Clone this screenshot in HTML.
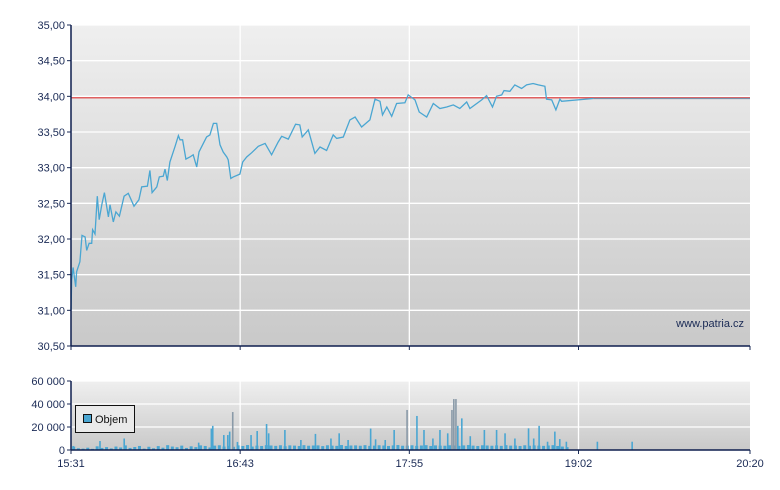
<!DOCTYPE html>
<html><head><meta charset="utf-8"><style>
html,body{margin:0;padding:0;background:#fff;width:780px;height:490px;overflow:hidden}
svg{display:block;font-family:"Liberation Sans",sans-serif}
</style></head><body>
<svg id="c" width="780" height="490">
<defs>
<linearGradient id="g1" x1="0" y1="0" x2="0" y2="1"><stop offset="0" stop-color="#efefef"/><stop offset="1" stop-color="#c9c9c9"/></linearGradient>
<linearGradient id="g2" x1="0" y1="0" x2="0" y2="1"><stop offset="0" stop-color="#efefef"/><stop offset="1" stop-color="#c9c9c9"/></linearGradient>
</defs>
</svg>
<script>
const priceTimes=[0,0.3,0.9,2,2.4,3.8,4.7,6,6.7,7.7,8.8,9.2,10.2,11.2,12,13.1,14.2,15.9,16.6,18,19.1,20.6,22.6,24.4,26.8,28.9,30.1,32.5,33.6,34.5,36.5,37.6,39.3,40,41,42.1,44.3,45.7,46.4,47.5,48.9,50.6,52,53.5,54.5,56.3,57.7,59.1,60.6,62,63.4,64.8,66.3,66.9,68,69.1,71.9,73.1,74.8,76.9,79.7,82.6,85.4,88.2,89.7,92.5,95.6,97.4,98.4,101,103.8,106,108.8,111.6,113.1,115.9,118.7,120.9,123.7,127.2,129.4,131.5,132.6,134.4,136.5,138.6,142.1,143.5,146.4,148.2,151.4,154.2,157,159.9,162.7,165.5,168.4,169.8,174.8,176.9,179.4,181.1,183.3,184.3,186.8,188.9,191.8,193.9,196.7,198.9,201.7,202.4,204.6,206.4,208.1,208.8,222.3];
const priceValues=[31.0,31.43,31.6,31.33,31.54,31.68,32.05,32.03,31.84,31.94,31.94,32.13,32.07,32.6,32.27,32.48,32.65,32.31,32.48,32.24,32.38,32.32,32.6,32.64,32.46,32.55,32.73,32.74,32.96,32.65,32.73,32.87,32.88,32.98,32.82,33.08,33.3,33.45,33.39,33.39,33.12,33.15,33.18,33.01,33.22,33.34,33.43,33.46,33.62,33.62,33.32,33.22,33.15,33.11,32.85,32.87,32.91,33.08,33.15,33.21,33.3,33.34,33.18,33.36,33.44,33.4,33.61,33.6,33.43,33.53,33.2,33.29,33.24,33.46,33.41,33.43,33.67,33.71,33.57,33.67,33.96,33.93,33.74,33.85,33.72,33.9,33.91,34.02,33.95,33.78,33.71,33.9,33.83,33.85,33.88,33.83,33.92,33.83,33.95,34.01,33.85,34.0,34.02,34.08,34.07,34.16,34.11,34.16,34.18,34.16,34.14,33.96,33.95,33.81,33.96,33.93,33.97];
const lastPrice=33.97;
const refPrice=33.98;
const priceTicks=["30,50","31,00","31,50","32,00","32,50","33,00","33,50","34,00","34,50","35,00"];
const priceTickValues=[30.5,31,31.5,32,32.5,33,33.5,34,34.5,35];
const timeLabels=["15:31","16:43","17:55","19:02","20:20"];
const timeTickMinutes=[0,72,144,216,289];
const volTicks=["0","20 000","40 000","60 000"];
const volTickValues=[0,20000,40000,60000];
const volSpikeTimes=[0.6,12,22.3,54,59.4,60,64.7,66.4,67.2,68.5,70.5,76.3,78.9,82.9,83.8,90.7,97.5,103.7,110.3,113.8,117.6,127.2,129.3,133.4,137.2,142.7,146.9,149.9,153.7,156.7,160,161.8,162.6,163.5,164.3,166,169.6,175.6,180.8,184.4,188.6,194.4,196.6,198.9,202.5,205.6,207.7,210.5,223.7,238.5];
const volSpikeValues=[3500,7800,10000,6400,18600,21000,13000,13000,16000,33000,7000,13000,16500,22600,14500,17400,8700,14000,10000,14500,8700,18600,9300,8700,17400,34800,29600,17400,10000,17400,14500,34800,44300,44300,21000,27500,12000,17400,17400,14500,10000,18800,10000,21000,7200,16000,9500,7200,7200,7200];
const volBaseValues=[3000,1500,1200,2000,1000,3200,1800,2500,1400,3000,2200,4000,1800,2600,3500,1200,2800,1500,3400,2000,4200,3000,2400,3800,1800,3200,2500,4000,3500,2200,3800,4100,3000,3600,2800,4000,3500,4300,3000,3800,3500,4200,3900,3600,4100,3300,4000,3800,3500,4200,3700,3900,4000,3400,4100,3800,3600,4300,3500,3900,4000,3700,4200,3600,3800,4100,3900,3500,4000,4300,3700,3800,4100,3600,3900,4200,3500,4000,3800,3700,4100,3900,3600,4000,4300,3800,3500,4100,3900,3700,4000,3600,4200,3800,3900,3500,4100,3700,4000,3800,3600,3900,4200,3500,3000,2500];

const NS="http://www.w3.org/2000/svg";
const svg=document.getElementById('c');
const X0=71,X1=750,T1=289;
const xS=t=>X0+(X1-X0)*t/T1;
const PY0=25,PY1=346;
const yS=v=>PY1-(v-30.5)/(35-30.5)*(PY1-PY0);
const VY0=381,VY1=450;
const vS=v=>VY1-v/60000*(VY1-VY0);
function el(tag,attrs,parent){const e=document.createElementNS(NS,tag);for(const k in attrs)e.setAttribute(k,attrs[k]);(parent||svg).appendChild(e);return e;}

let r=el('rect',{x:X0,y:PY0,width:X1-X0,height:PY1-PY0,fill:'url(#g1)'});


r=el('rect',{x:X0,y:VY0,width:X1-X0,height:VY1-VY0,fill:'url(#g2)'});



priceTickValues.forEach((v,i)=>{
  const y=yS(v);
  if(i>0){const g=el('line',{x1:X0,x2:X1,y1:y,y2:y,stroke:'#fff','stroke-width':1.3});
  
  }
  el('line',{x1:X0-4,x2:X0,y1:y,y2:y,stroke:'#1a2a55'});
  const t=el('text',{x:X0-6,y:y+4,'text-anchor':'end','font-size':11,fill:'#1a2a55'});t.textContent=priceTicks[i];
  
  
});
volTickValues.forEach((v,i)=>{
  const y=vS(v);
  if(i>0){const g=el('line',{x1:X0,x2:X1,y1:y,y2:y,stroke:'#fff','stroke-width':1.3});
  
  }
  el('line',{x1:X0-4,x2:X0,y1:y,y2:y,stroke:'#1a2a55'});
  const t=el('text',{x:X0-6,y:y+4,'text-anchor':'end','font-size':11,fill:'#1a2a55'});t.textContent=volTicks[i];
  
  
});
timeTickMinutes.forEach((m,i)=>{
  const x=xS(m);
  if(i>0&&i<timeTickMinutes.length-1){
    el('line',{x1:x,x2:x,y1:PY0,y2:PY1,stroke:'#fff','stroke-width':1.3});
    el('line',{x1:x,x2:x,y1:VY0,y2:VY1,stroke:'#fff','stroke-width':1.3});
  }
  el('line',{x1:x,x2:x,y1:PY1,y2:PY1+4,stroke:'#1a2a55'});
  el('line',{x1:x,x2:x,y1:VY1,y2:VY1+4,stroke:'#1a2a55'});
  const t=el('text',{x:x,y:467,'text-anchor':'middle','font-size':11,fill:'#1a2a55'});t.textContent=timeLabels[i];
  
  
});

const vg=el('g',{});


volBaseValues.forEach((v,i)=>{
  const t=i*2+0.5;const x=xS(t);
  const b=el('rect',{x:x,y:vS(v),width:3,height:VY1-vS(v),fill:'#4aa6d2'},vg);
  
  
});
volSpikeTimes.forEach((t,i)=>{
  const v=volSpikeValues[i];const x=xS(t);
  const b=el('rect',{x:x,y:vS(v),width:1.6,height:VY1-vS(v),fill:v>30000?'#8a9aa8':'#4aa6d2'},vg);
  
  
});

let ref=el('line',{x1:X0,x2:X1,y1:yS(refPrice),y2:yS(refPrice),stroke:'#e06060','stroke-width':1.5});



let d='';priceTimes.forEach((t,i)=>{d+=(i?'L':'M')+xS(t).toFixed(1)+' '+yS(priceValues[i]).toFixed(1);});
let pl=el('path',{d:d,fill:'none',stroke:'#4aa6d2','stroke-width':1.3});


let lastT=priceTimes[priceTimes.length-1];
let ll=el('line',{x1:xS(lastT),x2:X1,y1:yS(lastPrice),y2:yS(lastPrice),stroke:'#7a8fa8','stroke-width':1.3});



el('line',{x1:X0,x2:X0,y1:PY0,y2:PY1,stroke:'#0f1f4f','stroke-width':1.5});
el('line',{x1:X0,x2:X1,y1:PY1,y2:PY1,stroke:'#0f1f4f','stroke-width':1.5});
el('line',{x1:X0,x2:X0,y1:VY0,y2:VY1,stroke:'#0f1f4f','stroke-width':1.5});
el('line',{x1:X0,x2:X1,y1:VY1,y2:VY1,stroke:'#0f1f4f','stroke-width':1.5});

let w=el('text',{x:744,y:327,'text-anchor':'end','font-size':11,fill:'#1a2a55'});w.textContent='www.patria.cz';



let lg=el('g',{});


el('rect',{x:75.5,y:405.5,width:59,height:27,fill:'#eaeaea',stroke:'#111'},lg);
el('rect',{x:83.5,y:414.5,width:8,height:8,fill:'#4aa6d2',stroke:'#111'},lg);
let lt=el('text',{x:95,y:423,'font-size':11,fill:'#111'},lg);lt.textContent='Objem';
</script>
</body></html>
